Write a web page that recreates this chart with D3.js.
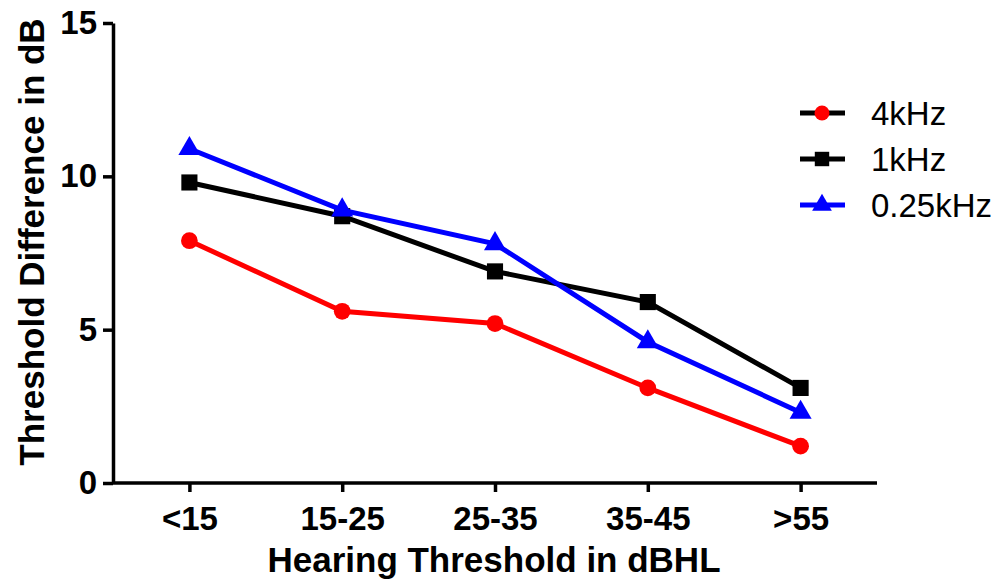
<!DOCTYPE html>
<html lang="en">
<head>
<meta charset="UTF-8">
<title>Threshold Difference</title>
<script src="https://d3js.org/d3.v7.min.js"></script>
<style>
  body { margin: 0; background: #fff; font-family: "Liberation Sans", Arial, sans-serif; }
  .axis path, .axis line { stroke: #000; stroke-width: 3.5px; }
  .axis text { font-size: 33px; font-weight: bold; fill: #000; }
</style>
</head>
<body>
<div id="chart"></div>
<script>
const categories = ["<15", "15-25", "25-35", "35-45", ">55"];
const yTicks = [0, 5, 10, 15];
const seriesNames = ["4kHz", "1kHz", "0.25kHz"];
const values4k = [7.9, 5.6, 5.2, 3.1, 1.2];
const values1k = [9.8, 8.7, 6.9, 5.9, 3.1];
const values025k = [10.9, 8.9, 7.8, 4.6, 2.3];

const series = [
  { name: seriesNames[0], values: values4k, color: "#ff0000", symbol: d3.symbolCircle, size: 220 },
  { name: seriesNames[1], values: values1k, color: "#000000", symbol: d3.symbolSquare, size: 260 },
  { name: seriesNames[2], values: values025k, color: "#0000ff", symbol: d3.symbolTriangle, size: 210 }
];

const width = 1001, height = 580;
const margin = { left: 113, right: 124, top: 23, bottom: 97 };

const svg = d3.select("#chart").append("svg")
  .attr("width", width)
  .attr("height", height);

const x = d3.scalePoint()
  .domain(categories)
  .range([margin.left, width - margin.right])
  .padding(0.5);

const y = d3.scaleLinear()
  .domain([0, 15])
  .range([height - margin.bottom, margin.top]);

// axes
svg.append("g")
  .attr("class", "axis")
  .attr("transform", `translate(0,${height - margin.bottom})`)
  .call(d3.axisBottom(x).tickSize(9).tickPadding(15).tickSizeOuter(0))
  .call(g => g.select(".domain").attr("d", `M${margin.left},0H${width - margin.right}`));

svg.append("g")
  .attr("class", "axis")
  .attr("transform", `translate(${margin.left},0)`)
  .call(d3.axisLeft(y).tickValues(yTicks).tickSize(10).tickPadding(6).tickSizeOuter(0));

svg.selectAll(".axis text").attr("font-family", "Liberation Sans, Arial, sans-serif");

// axis titles
svg.append("text")
  .attr("x", 494)
  .attr("y", 572)
  .attr("text-anchor", "middle")
  .style("font-size", "35px")
  .style("font-weight", "bold")
  .text("Hearing Threshold in dBHL");

svg.append("text")
  .attr("transform", "translate(44,242) rotate(-90)")
  .attr("text-anchor", "middle")
  .style("font-size", "35px")
  .style("font-weight", "bold")
  .text("Threshold Difference in dB");

// lines and markers
const line = d3.line()
  .x((d, i) => x(categories[i]))
  .y(d => y(d));

series.forEach(s => {
  svg.append("path")
    .datum(s.values)
    .attr("d", line)
    .attr("fill", "none")
    .attr("stroke", s.color)
    .attr("stroke-width", 5);

  svg.selectAll(null)
    .data(s.values)
    .join("path")
      .attr("transform", (d, i) => `translate(${x(categories[i])},${y(d)})`)
      .attr("d", d3.symbol().type(s.symbol).size(s.size))
      .attr("fill", s.color);
});

// legend
const legend = svg.append("g").attr("transform", "translate(800,113)");
series.forEach((s, i) => {
  const g = legend.append("g").attr("transform", `translate(0,${i * 46})`);
  g.append("line")
    .attr("x1", 0).attr("x2", 45)
    .attr("stroke", i === 2 ? s.color : "#000")
    .attr("stroke-width", 5);
  g.append("path")
    .attr("transform", "translate(22,0)")
    .attr("d", d3.symbol().type(s.symbol).size(s.size * 0.8))
    .attr("fill", s.color);
  g.append("text")
    .attr("x", 71)
    .attr("dy", "0.36em")
    .style("font-size", "33px")
    .text(s.name);
});
</script>
</body>
</html>
